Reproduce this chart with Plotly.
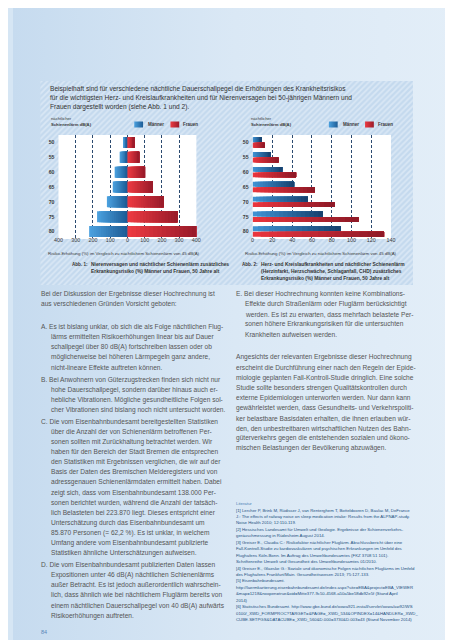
import plotly.graph_objects as go

W, H = 453, 640

# ---------------- data ----------------
laerm_stufen = ["50", "55", "60", "65", "70", "75", "80"]
niere_maenner = [25, 45, 74, 85, 119, 176, 222]
niere_frauen = [40, 68, 100, 148, 210, 290, 400]
herz_maenner = [9, 18, 30, 42, 56, 71, 89]
herz_frauen = [12, 26, 44, 63, 83, 107, 133]
abb1_tickwerte = [-400, -300, -200, -100, 0, 100, 200, 300, 400]
abb1_ticktexte = ["400", "300", "200", "100", "0", "100", "200", "300", "400"]
abb2_tickwerte = [0, 20, 40, 60, 80, 100, 120, 140]

NARROW = "Liberation Sans, Arial, sans-serif"
BODY = "Liberation Sans, Arial, Helvetica, sans-serif"

# geometry (pixels)
P1 = (46.5, 187.5)
P2 = (245.0, 386.5)
PT, PB = 127.0, 231.0


def hex2rgb(h):
    h = h.lstrip('#')
    return tuple(int(h[i:i + 2], 16) for i in (0, 2, 4))


def mix(c0, c1, t):
    a, b = hex2rgb(c0), hex2rgb(c1)
    return 'rgb(%d,%d,%d)' % tuple(round(a[i] + (b[i] - a[i]) * t) for i in range(3))


def gradient_bars(cats, starts, ends, c0, c1, xa, ya, offset, width, n=16):
    out = []
    for k in range(n):
        base = [s + (e - s) * k / n for s, e in zip(starts, ends)]
        length = [e - b for b, e in zip(base, ends)]
        out.append(go.Bar(y=cats, x=length, base=base, orientation='h',
                          offset=offset, width=width,
                          marker=dict(color=mix(c0, c1, k / (n - 1)), line=dict(width=0)),
                          xaxis=xa, yaxis=ya, showlegend=False, hoverinfo='skip'))
    return out


def rect(x0, y0, x1, y1, **kw):
    return go.Scatter(x=[x0, x1, x1, x0, x0], y=[y0, y0, y1, y1, y0], mode='none',
                      fill='toself', xaxis='x', yaxis='y', showlegend=False,
                      hoverinfo='skip', **kw)


fig = go.Figure()

# page background gradient
fig.add_trace(rect(0, 0, W, H, fillcolor='#d6e6f4',
                   fillgradient=dict(type='horizontal',
                                     colorscale=[[0, '#c6dbef'], [0.5, '#dae8f5'], [1, '#e3eef8']])))
# hatched box
fig.add_trace(rect(28, 73, 409, 277, fillcolor='#c4d9ee',
                   fillpattern=dict(shape='/', bgcolor='#c4d9ee', fgcolor='#eef5fb',
                                    size=4, solidity=0.45)))
# white plot areas
fig.add_trace(rect(P1[0], PT, P1[1], PB, fillcolor='white'))
fig.add_trace(rect(P2[0], PT, P2[1], PB, fillcolor='white'))

# legend swatches (gradient)
BL0, BL1 = '#4aa0de', '#1d5c96'
RD0, RD1 = '#ec3a42', '#9a1b2a'
for (x0, c0, c1) in [(124, BL0, BL1), (161, RD0, RD1), (323, BL0, BL1), (360, RD0, RD1)]:
    fig.add_trace(rect(x0, 113.5, x0 + 9, 119.5, fillcolor=c0,
                       fillgradient=dict(type='horizontal', colorscale=[[0, c0], [1, c1]])))

# ---- Abb. 1: bars ----
for tr in gradient_bars(laerm_stufen, [-v for v in niere_maenner], [0] * 7,
                        '#4aa0de', '#1d5c96', 'x2', 'y2', -0.37, 0.74):
    fig.add_trace(tr)
for tr in gradient_bars(laerm_stufen, [0] * 7, niere_frauen,
                        '#ec3a42', '#9a1b2a', 'x2', 'y2', -0.37, 0.74):
    fig.add_trace(tr)

# ---- Abb. 2: bars ----
for tr in gradient_bars(laerm_stufen, [0] * 7, herz_maenner,
                        '#3f92d3', '#17426f', 'x3', 'y3', -0.35, 0.33):
    fig.add_trace(tr)
for tr in gradient_bars(laerm_stufen, [0] * 7, herz_frauen,
                        '#e9353d', '#8f1927', 'x3', 'y3', 0.02, 0.33):
    fig.add_trace(tr)

grid = dict(showgrid=True, gridcolor='#2b4a70', gridwidth=1, griddash='3px,2px',
            zeroline=False, showline=False, ticks='', fixedrange=True,
            ticklabelstandoff=-3,
            tickfont=dict(size=5.4, color='#3a3a3a', family=NARROW))
ycat = dict(type='category', categoryorder='array', categoryarray=laerm_stufen,
            range=[6.5, -0.5], showgrid=False, zeroline=False, showline=False,
            ticks='outside', ticklen=2, tickcolor='rgba(0,0,0,0)', fixedrange=True,
            tickfont=dict(size=5.2, color='#3a3a3a', family=NARROW, weight='bold'))

fig.update_layout(
    width=W, height=H, margin=dict(l=0, r=0, t=0, b=0),
    paper_bgcolor='#d6e6f4', plot_bgcolor='rgba(0,0,0,0)',
    showlegend=False, hovermode=False, barmode='overlay',
    xaxis=dict(domain=[0, 1], range=[0, W], visible=False, fixedrange=True),
    yaxis=dict(domain=[0, 1], range=[H, 0], visible=False, fixedrange=True),
    xaxis2=dict(domain=[P1[0] / W, P1[1] / W], range=[-400, 400], anchor='y2',
                tickvals=abb1_tickwerte, ticktext=abb1_ticktexte, **grid),
    yaxis2=dict(domain=[1 - PB / H, 1 - PT / H], anchor='x2', **ycat),
    xaxis3=dict(domain=[P2[0] / W, P2[1] / W], range=[0, 140], anchor='y3',
                tickvals=abb2_tickwerte, **grid),
    yaxis3=dict(domain=[1 - PB / H, 1 - PT / H], anchor='x3', **ycat),
)

ann = []


def txt(x, y, s, size, color, family, xanchor='left', weight='normal'):
    ann.append(dict(x=x, y=y, xref='x', yref='y', text=s, showarrow=False,
                    xanchor=xanchor, yanchor='middle', align='left', borderpad=0,
                    font=dict(size=size, color=color, family=family, weight=weight)))


# intro in box
intro = ["Beispielhaft sind für verschiedene nächtliche Dauerschallpegel die Erhöhungen des Krankheitsrisikos",
         "für die wichtigsten Herz- und Kreislaufkrankheiten und für Nierenversagen bei 50-jährigen Männern und",
         "Frauen dargestellt worden (siehe Abb. 1 und 2)."]
for i, s in enumerate(intro):
    txt(37, 81 + i * 9, s, 6.6, '#333333', BODY)

# y-titles and legends
for x0, lx in [(37.5, (124, 161)), (242, (323, 360))]:
    txt(x0, 110, "nächtlicher", 4.2, '#3a3a3a', NARROW)
    txt(x0, 116.5, "Schienenlärm dB(A)", 4.2, '#3a3a3a', NARROW, weight='bold')
    txt(lx[0] + 13, 116.5, "Männer", 4.5, '#3a3a3a', NARROW, weight='bold')
    txt(lx[1] + 12, 116.5, "Frauen", 4.5, '#3a3a3a', NARROW, weight='bold')

xt = "Risiko-Erhöhung (%) im Vergleich zu nächtlichem Schienenlärm von 45 dB(A)"
txt((P1[0] + P1[1]) / 2 - 3, 245.5, xt, 4.4, '#3a3a3a', NARROW, xanchor='center')
txt((P2[0] + P2[1]) / 2 - 1, 245.5, xt, 4.4, '#3a3a3a', NARROW, xanchor='center')

# captions
CS = 4.9
txt(59.5, 256.5, "Abb. 1:", 4.6, '#333333', NARROW, weight='bold')
txt(79, 256.5, "Nierenversagen und nächtlicher Schienenlärm zusätzliches", CS, '#333333', NARROW, weight='bold')
txt(79, 263.5, "Erkrankungsrisiko (%) Männer und Frauen, 50 Jahre alt", CS, '#333333', NARROW, weight='bold')
txt(233, 256.5, "Abb. 2:", 4.6, '#333333', NARROW, weight='bold')
for i, s in enumerate(["Herz- und Kreislaufkrankheiten und nächtlicher Schienenlärm",
                       "(Herzinfarkt, Herzschwäche, Schlaganfall, CHD) zusätzliches",
                       "Erkrankungsrisiko (%) Männer und Frauen, 50 Jahre alt"]):
    txt(253, 256.5 + i * 7, s, CS, '#333333', NARROW, weight='bold')

# body text
LH = 10.1
BS = 6.6
BC = '#555555'


def para(x, y, lines, indent=0.0):
    for i, s in enumerate(lines):
        txt(x + (indent if i > 0 else 0), y + i * LH, s, BS, BC, BODY)
    return y + (len(lines) - 1) * LH


y = para(28, 286, ["Bei der Diskussion der Ergebnisse dieser Hochrechnung ist",
                   "aus verschiedenen Gründen Vorsicht geboten:"])
y = para(28, y + 23, ["A. Es ist bislang unklar, ob sich die als Folge nächtlichen Flug-",
                      "lärms ermittelten Risikoerhöhungen linear bis auf Dauer",
                      "schallpegel über 80 dB(A) fortschreiben lassen oder ob",
                      "möglicherweise bei höheren Lärmpegeln ganz andere,",
                      "nicht-lineare Effekte auftreten können."], indent=9.5)
y = para(28, y + 12, ["B. Bei Anwohnern von Güterzugstrecken finden sich nicht nur",
                      "hohe Dauerschallpegel, sondern darüber hinaus auch er-",
                      "hebliche Vibrationen. Mögliche gesundheitliche Folgen sol-",
                      "cher Vibrationen sind bislang noch nicht untersucht worden."], indent=9.5)
y = para(28, y + 12, ["C. Die vom Eisenbahnbundesamt bereitgestellten Statistiken",
                      "über die Anzahl der von Schienenlärm betroffenen Per-",
                      "sonen sollten mit Zurückhaltung betrachtet werden. Wir",
                      "haben für den Bereich der Stadt Bremen die entsprechen",
                      "den Statistiken mit Ergebnissen verglichen, die wir auf der",
                      "Basis der Daten des Bremischen Melderegisters und von",
                      "adressgenauen Schienenlärmdaten ermittelt haben. Dabei",
                      "zeigt sich, dass vom Eisenbahnbundesamt 138.000 Per-",
                      "sonen berichtet wurden, während die Anzahl der tatsäch-",
                      "lich Belasteten bei 223.870 liegt. Dieses entspricht einer",
                      "Unterschätzung durch das Eisenbahnbundesamt um",
                      "85.870 Personen (= 62,2 %). Es ist unklar, in welchem",
                      "Umfang andere vom Eisenbahnbundesamt publizierte",
                      "Statistiken ähnliche Unterschätzungen aufweisen."], indent=9.5)
y = para(28, y + 12, ["D. Die vom Eisenbahnbundesamt publizierten Daten lassen",
                      "Expositionen unter 46 dB(A) nächtlichen Schienenlärms",
                      "außer Betracht. Es ist jedoch außerordentlich wahrschein-",
                      "lich, dass ähnlich wie bei nächtlichem Fluglärm bereits von",
                      "einem nächtlichen Dauerschallpegel von 40 dB(A) aufwärts",
                      "Risikoerhöhungen auftreten."], indent=9.5)
txt(28, y + 16, "84", 5.5, '#5b87b8', BODY)

y = para(227, 286, ["E. Bei dieser Hochrechnung konnten keine Kombinations-",
                    "Effekte durch Straßenlärm oder Fluglärm berücksichtigt",
                    "werden. Es ist zu erwarten, dass mehrfach belastete Per-",
                    "sonen höhere Erkrankungsrisiken für die untersuchten",
                    "Krankheiten aufweisen werden."], indent=9.5)
y = para(227, y + 23, ["Angesichts der relevanten Ergebnisse dieser Hochrechnung",
                       "erscheint die Durchführung einer nach den Regeln der Epide-",
                       "miologie geplanten Fall-Kontroll-Studie dringlich. Eine solche",
                       "Studie sollte besonders strengen Qualitätskontrollen durch",
                       "externe Epidemiologen unterworfen werden. Nur dann kann",
                       "gewährleistet werden, dass Gesundheits- und Verkehrspoliti-",
                       "ker belastbare Basisdaten erhalten, die ihnen erlauben wür-",
                       "den, den unbestreitbaren wirtschaftlichen Nutzen des Bahn-",
                       "güterverkehrs gegen die entstehenden sozialen und ökono-",
                       "mischen Belastungen der Bevölkerung abzuwägen."])

# literature
lit = ["[1] Lercher P, Brink M, Rüdisser J, van Renterghem T, Botteldooren D, Baulac M, DeFrance",
       "J.: The effects of railway noise on sleep medication intake: Results from the ALPNAP-study.",
       "Noise Health 2010; 12:110-119.",
       "[2] Hessisches Landesamt für Umwelt und Geologie. Ergebnisse der Schienenverkehrs-",
       "geräuschmessung in Rüdesheim August 2014.",
       "[3] Greiser E., Claudia C.: Risikofaktor nächtlicher Fluglärm. Abschlussbericht über eine",
       "Fall-Kontroll-Studie zu kardiovaskulären und psychischen Erkrankungen im Umfeld des",
       "Flughafens Köln-Bonn. Im Auftrag des Umweltbundesamtes (FKZ 3708 51 101).",
       "Schriftenreihe Umwelt und Gesundheit des Umweltbundesamtes 01/2010.",
       "[4] Greiser E., Glaeske G.: Soziale und ökonomische Folgen nächtlichen Fluglärms im Umfeld",
       "des Flughafens Frankfurt/Main. Gesundheitswesen 2013; 75:127-133.",
       "[5] Eisenbahnbundesamt.",
       "http://laermkartierung.eisenbahnbundesamt.de/index.aspx?site=EBA&project=EBA_VIEWER",
       "&map=1218&noopen=true&oid=Mitte377-9c50-4568-a50a5be58db92e5f (Stand April",
       "2014)",
       "[6] Statistisches Bundesamt. http://www.gbe-bund.de/oowa921-install/servlet/oowa/aw92/WS",
       "0100/_XWD_FORMPROC?TARGET=&PAGE=_XWD_534&OPINDEX=14&HANDLER=_XWD_",
       "CUBE.SETPGS&DATACUBE=_XWD_560&D.000=3730&D.003=43 (Stand November 2014)"]
txt(227, 495.5, "Literatur", 4.3, '#4a7fb5', NARROW)
for i, s in enumerate(lit):
    txt(227, 502 + i * 6.45, s.replace('&', '&amp;'), 4.3, '#23507f', NARROW)

fig.update_layout(annotations=ann)
fig.write_html("out.html")
